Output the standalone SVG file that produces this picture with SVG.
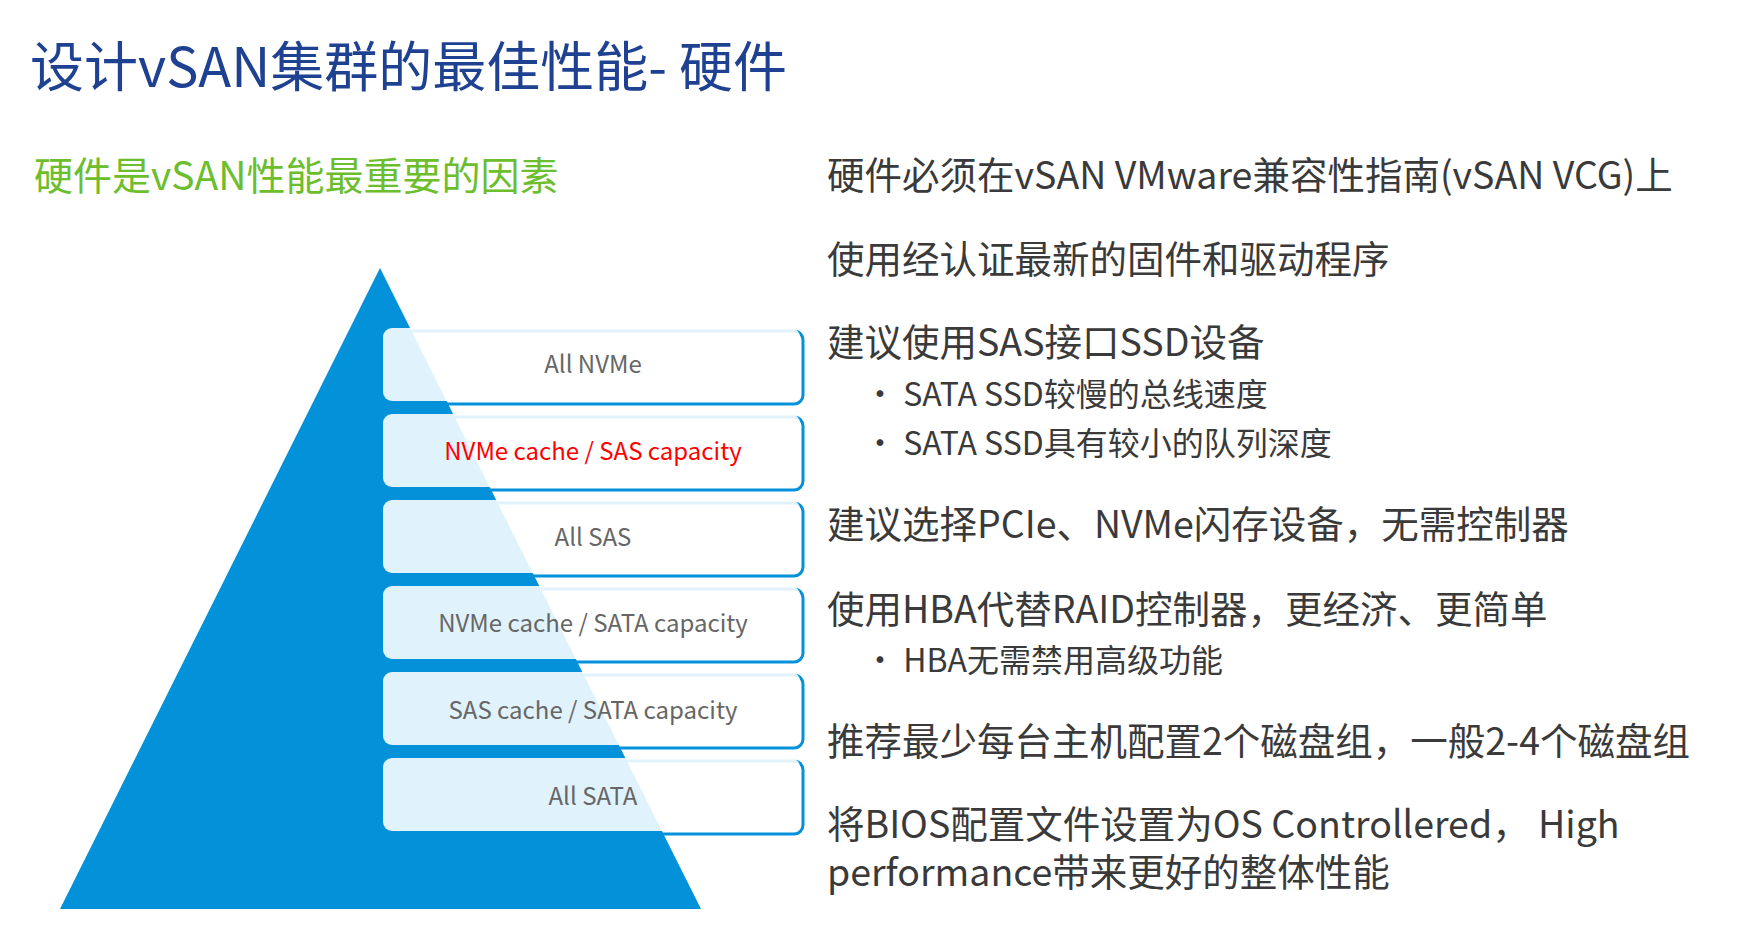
<svg xmlns="http://www.w3.org/2000/svg" width="1750" height="950" viewBox="0 0 1750 950">
<style>
text{font-family:"Noto Sans CJK SC","Noto Sans",sans-serif}
.b{fill:#fff;fill-opacity:.88}
.o{fill:none;stroke:#0391D9;stroke-width:3}
.l{font-size:24px;fill:#666;text-anchor:middle}
.r{font-size:37.5px;fill:#3a3a3a}
.s{font-size:32px;fill:#3a3a3a}
</style>
<rect width="1750" height="950" fill="#fff"/>
<text x="30" y="87" font-size="54" fill="#1F4191">设计vSAN集群的最佳性能- 硬件</text>
<text x="34" y="190" font-size="39" fill="#6CBE2D">硬件是vSAN性能最重要的因素</text>
<polygon id="pyramid" points="380,268 60,909 701,909" fill="#0391D9"/>
<g id="n1"><rect class="o" x="386" y="331" width="417" height="73" rx="9"/><rect class="b" x="383" y="328" width="417" height="73" rx="9"/><text class="l" x="593" y="373">All NVMe</text></g>
<g id="n2"><rect class="o" x="386" y="417" width="417" height="73" rx="9"/><rect class="b" x="383" y="414" width="417" height="73" rx="9"/><text class="l" x="593" y="460" style="fill:#f00">NVMe cache / SAS capacity</text></g>
<g id="n3"><rect class="o" x="386" y="503" width="417" height="73" rx="9"/><rect class="b" x="383" y="500" width="417" height="73" rx="9"/><text class="l" x="593" y="546">All SAS</text></g>
<g id="n4"><rect class="o" x="386" y="589" width="417" height="73" rx="9"/><rect class="b" x="383" y="586" width="417" height="73" rx="9"/><text class="l" x="593" y="632">NVMe cache / SATA capacity</text></g>
<g id="n5"><rect class="o" x="386" y="675" width="417" height="73" rx="9"/><rect class="b" x="383" y="672" width="417" height="73" rx="9"/><text class="l" x="593" y="719">SAS cache / SATA capacity</text></g>
<g id="n6"><rect class="o" x="386" y="761" width="417" height="73" rx="9"/><rect class="b" x="383" y="758" width="417" height="73" rx="9"/><text class="l" x="593" y="805">All SATA</text></g>
<g id="connectors"></g>
<g id="notes">
<text class="r" x="827" y="189">硬件必须在vSAN VMware兼容性指南(vSAN VCG)上</text>
<text class="r" x="827" y="273">使用经认证最新的固件和驱动程序</text>
<text class="r" x="827" y="356">建议使用SAS接口SSD设备</text>
<text class="s" x="864" y="406">• SATA SSD较慢的总线速度</text>
<text class="s" x="864" y="455">• SATA SSD具有较小的队列深度</text>
<text class="r" x="827" y="538">建议选择PCIe、NVMe闪存设备，无需控制器</text>
<text class="r" x="827" y="623">使用HBA代替RAID控制器，更经济、更简单</text>
<text class="s" x="864" y="672">• HBA无需禁用高级功能</text>
<text class="r" x="827" y="755">推荐最少每台主机配置2个磁盘组，一般2-4个磁盘组</text>
<text class="r" x="827" y="838">将BIOS配置文件设置为OS Controllered， High</text>
<text class="r" x="827" y="886">performance带来更好的整体性能</text>
</g>
</svg>
